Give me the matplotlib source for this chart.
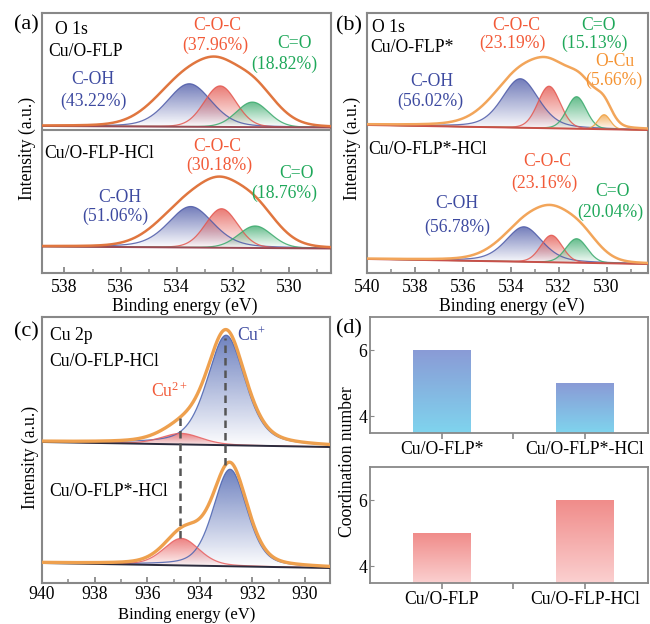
import numpy as np
import matplotlib
matplotlib.use('Agg')
import matplotlib.pyplot as plt
import matplotlib.colors as mcolors

plt.rcParams['font.family'] = 'Liberation Serif'
plt.rcParams['mathtext.fontset'] = 'custom'
plt.rcParams['mathtext.rm'] = 'Liberation Serif'
plt.rcParams['mathtext.it'] = 'Liberation Serif:italic'

# ---- data (peak heights in arbitrary intensity units) ----
# (a) O 1s, Cu/O-FLP (top) and Cu/O-FLP-HCl (bottom)
a1_pos = [533.55, 532.45, 531.3]
a1_amp = [43, 41, 25]
a1_fwhm = [1.85, 1.35, 1.35]
a1_eta = [0.25, 0.1, 0.1]
a1_env_pos = [533.8, 532.55, 531.25]
a1_env_amp = [42, 40, 36]
a1_env_fwhm = [2.4, 1.9, 1.9]
a1_env_eta = [0.15, 0.15, 0.15]
a1_base = [147, 145.5]

a2_pos = [533.5, 532.4, 531.2]
a2_amp = [41, 39, 22]
a2_fwhm = [1.9, 1.35, 1.4]
a2_eta = [0.35, 0.1, 0.1]
a2_env_pos = [533.7, 532.45, 531.2]
a2_env_amp = [38, 42, 36]
a2_env_fwhm = [2.4, 1.9, 1.9]
a2_env_eta = [0.15, 0.15, 0.15]
a2_base = [26.5, 24.5]

# (b) O 1s, Cu/O-FLP* (top) and Cu/O-FLP*-HCl (bottom)
b1_pos = [533.6, 532.4, 531.25, 530.1]
b1_amp = [49, 42, 32, 14.5]
b1_fwhm = [1.8, 1.1, 0.95, 0.6]
b1_eta = [0.35, 0.1, 0.1, 0.1]
b1_env_pos = [533.7, 532.3, 531.0, 530.1]
b1_env_amp = [50, 42, 36, 16]
b1_env_fwhm = [2.6, 1.9, 1.5, 0.8]
b1_env_eta = [0.35, 0.1, 0.1, 0.1]
b1_base = [148, 143]

b2_pos = [533.45, 532.3, 531.25]
b2_amp = [35, 27, 24]
b2_fwhm = [1.8, 1.05, 1.05]
b2_eta = [0.4, 0.1, 0.1]
b2_env_pos = [533.5, 532.3, 531.1]
b2_env_amp = [33, 33, 26]
b2_env_fwhm = [2.4, 1.9, 1.8]
b2_env_eta = [0.35, 0.1, 0.1]
b2_base = [14, 9]

# (c) Cu 2p, Cu/O-FLP-HCl (top) and Cu/O-FLP*-HCl (bottom): Cu+, Cu2+
c1_pos = [933.0, 934.7]
c1_amp = [110, 11]
c1_fwhm = [1.7, 1.8]
c1_eta = [0.45, 0.3]
c1_env_pos = [933.0, 934.7]
c1_env_amp = [114, 13]
c1_env_fwhm = [1.75, 1.8]
c1_env_eta = [0.45, 0.3]
c1_base = [141, 136]

c2_pos = [932.85, 934.7]
c2_amp = [97, 27]
c2_fwhm = [1.5, 1.6]
c2_eta = [0.35, 0.3]
c2_env_pos = [932.85, 934.6]
c2_env_amp = [101, 32]
c2_env_fwhm = [1.55, 1.7]
c2_env_eta = [0.35, 0.3]
c2_base = [20, 15]

c_dash_x = [934.75, 933.05]
c_dash_lo = [45, 118]
c_dash_hi = [166, 245]

# (d) coordination numbers
d_top_labels = ['Cu/O-FLP*', 'Cu/O-FLP*-HCl']
d_top_values = [6, 5]
d_bot_labels = ['Cu/O-FLP', 'Cu/O-FLP-HCl']
d_bot_values = [5, 6]

BLUE, RED, GREEN, ORANGE = '#4d5aa8', '#e4574f', '#3aaa6c', '#f0a040'
T_BLUE, T_RED, T_GREEN, T_ORANGE = '#3d4aa0', '#f25a38', '#1fa85a', '#f59332'
SPINE = '#888888'
FS = 12.7

W, H = 650, 624
fig = plt.figure(figsize=(6.5, 6.24), dpi=100)


def rect(l, t, r, b):
    return [l / W, 1 - b / H, (r - l) / W, (b - t) / H]


def pv(x, c, h, w, eta):
    g = np.exp(-4 * np.log(2) * (x - c) ** 2 / w ** 2)
    lor = 1 / (1 + 4 * (x - c) ** 2 / w ** 2)
    return h * ((1 - eta) * g + eta * lor)


def gradient_fill(ax, x, y0, y1, color, a_top=0.8, z=2):
    poly = ax.fill_between(x, y0, y1, facecolor='none', edgecolor='none')
    img = np.ones((256, 1, 4))
    img[:, 0, :3] = mcolors.to_rgb(color)
    img[:, 0, 3] = np.linspace(0.0, a_top, 256)
    im = ax.imshow(img, aspect='auto', origin='lower', interpolation='bilinear',
                   extent=[x.min(), x.max(), y0.min(), y1.max()], zorder=z)
    im.set_clip_path(poly.get_paths()[0], transform=ax.transData)


def draw_spec(ax, x, base, pos, amp, fwhm, eta, cols, epos, eamp, efwhm, eeta, ecol,
              bcol, elw=1.8):
    bl = base[0] + (base[1] - base[0]) * (x - x[0]) / (x[-1] - x[0])
    for c, h, w, e, col in zip(pos, amp, fwhm, eta, cols):
        y = bl + pv(x, c, h, w, e)
        gradient_fill(ax, x, bl, y, col)
        ax.plot(x, y, color=col, lw=0.9, alpha=0.85, zorder=3)
    ax.plot(x, bl, color=bcol, lw=1.4, zorder=3.5)
    env = bl.copy()
    for c, h, w, e in zip(epos, eamp, efwhm, eeta):
        env = env + pv(x, c, h, w, e)
    ax.plot(x, env, color=ecol, lw=elw, zorder=4)


def spec_axes(r, xlim, major, minor, pad=4.5):
    ax = fig.add_axes(rect(*r))
    ax.set_yticks([])
    ax.set_xticks(major)
    ax.set_xticks(minor, minor=True)
    ax.tick_params(axis='x', which='both', direction='in', color=SPINE, labelsize=FS, pad=pad)
    ax.tick_params(axis='x', which='major', length=4.5, width=1.3)
    ax.tick_params(axis='x', which='minor', length=3, width=1.1)
    for s in ax.spines.values():
        s.set_color(SPINE)
        s.set_linewidth(1.5)
    return ax, np.linspace(xlim[0], xlim[1], 700)


def txt(s, x, y, color='black', ha='center', size=FS, rot=0):
    fig.text(x / W, 1 - y / H, s, color=color, ha=ha, va='center', fontsize=size, rotation=rot)


# ---- (a) ----
ax, xs = spec_axes((42, 13, 331, 273), (538.8, 528.5),
                   [538, 536, 534, 532, 530], [537, 535, 533, 531, 529])
draw_spec(ax, xs, a1_base, a1_pos, a1_amp, a1_fwhm, a1_eta, [BLUE, RED, GREEN],
          a1_env_pos, a1_env_amp, a1_env_fwhm, a1_env_eta, '#e0763f', '#9a4a55')
draw_spec(ax, xs, a2_base, a2_pos, a2_amp, a2_fwhm, a2_eta, [BLUE, RED, GREEN],
          a2_env_pos, a2_env_amp, a2_env_fwhm, a2_env_eta, '#e0763f', '#9a4a55')
ax.axhline(143.5, color=SPINE, lw=1.5, zorder=5)
ax.set_xlim(538.8, 528.5)
ax.set_ylim(0, 260)

# ---- (b) ----
ax, xs = spec_axes((367, 13, 648, 273), (540, 528.27),
                   [540, 538, 536, 534, 532, 530], [539, 537, 535, 533, 531, 529])
draw_spec(ax, xs, b1_base, b1_pos, b1_amp, b1_fwhm, b1_eta, [BLUE, RED, GREEN, ORANGE],
          b1_env_pos, b1_env_amp, b1_env_fwhm, b1_env_eta, '#f2a55a', '#c8504a')
draw_spec(ax, xs, b2_base, b2_pos, b2_amp, b2_fwhm, b2_eta, [BLUE, RED, GREEN],
          b2_env_pos, b2_env_amp, b2_env_fwhm, b2_env_eta, '#f2a55a', '#c8504a')
ax.set_xlim(540, 528.27)
ax.set_ylim(0, 260)

# ---- (c) ----
ax, xs = spec_axes((42, 317, 330, 583), (940, 929.05),
                   [940, 938, 936, 934, 932, 930], [939, 937, 935, 933, 931, 929], pad=2.5)
draw_spec(ax, xs, c1_base, c1_pos, c1_amp, c1_fwhm, c1_eta, ['#4a62b0', '#e86060'],
          c1_env_pos, c1_env_amp, c1_env_fwhm, c1_env_eta, '#eea04e', '#2b2b3d', elw=2.4)
draw_spec(ax, xs, c2_base, c2_pos, c2_amp, c2_fwhm, c2_eta, ['#4a62b0', '#e86060'],
          c2_env_pos, c2_env_amp, c2_env_fwhm, c2_env_eta, '#eea04e', '#2b2b3d', elw=2.4)
for x0, lo, hi in zip(c_dash_x, c_dash_lo, c_dash_hi):
    ax.plot([x0, x0], [lo, hi], color='#555555', lw=1.8, ls=(0, (3, 2)), zorder=6)
ax.set_xlim(940, 929.05)
ax.set_ylim(0, 266)


# ---- (d) ----
def bar_axes(r, labels, values, c_bot, c_top):
    ax = fig.add_axes(rect(*r))
    cats = np.arange(len(labels))
    bars = ax.bar(cats, values, width=0.4, color='none', edgecolor='none')
    cmap = mcolors.LinearSegmentedColormap.from_list('g', [c_bot, c_top])
    grad = np.linspace(0, 1, 256)[:, None]
    for b, v in zip(bars, values):
        x0 = b.get_x()
        im = ax.imshow(grad, cmap=cmap, aspect='auto', origin='lower',
                       extent=[x0, x0 + b.get_width(), 3.5, v], zorder=2)
        im.set_clip_path(b)
    ax.set_xlim(-0.5, 1.44)
    ax.set_ylim(3.5, 7.0)
    ax.set_yticks([4, 6])
    ax.set_xticks(cats)
    ax.set_xticks([0.5], minor=True)
    ax.set_xticklabels(labels)
    ax.tick_params(axis='x', which='both', direction='out', length=4, width=1.2,
                   color=SPINE, labelsize=FS, pad=2)
    ax.tick_params(axis='y', direction='in', length=3, color=SPINE, labelsize=FS, pad=2)
    for s in ax.spines.values():
        s.set_color(SPINE)
        s.set_linewidth(1.3)
    return ax


bar_axes((370, 317, 648, 433), d_top_labels, d_top_values, '#7fd4ee', '#8a9bd6')
bar_axes((370, 467, 648, 583), d_bot_labels, d_bot_values, '#fbd0d0', '#f08c8a')

# ---- text ----
for lab, x, y in [('(a)', 26, 25), ('(b)', 349, 26), ('(c)', 26, 332), ('(d)', 349, 329)]:
    txt(lab, x, y, size=16)

txt('O 1s', 55, 30, ha='left')
txt('Cu/O-FLP', 48, 52, ha='left')
txt('C-OH', 93, 80, T_BLUE)
txt('(43.22%)', 93, 101, T_BLUE)
txt('C-O-C', 217, 26, T_RED)
txt('(37.96%)', 215, 45, T_RED)
txt('C=O', 295, 44, T_GREEN)
txt('(18.82%)', 284, 64, T_GREEN)
txt('Cu/O-FLP-HCl', 44, 153, ha='left')
txt('C-O-C', 217, 146, T_RED)
txt('(30.18%)', 219, 165, T_RED)
txt('C=O', 296, 173, T_GREEN)
txt('(18.76%)', 284, 193, T_GREEN)
txt('C-OH', 120, 197, T_BLUE)
txt('(51.06%)', 115, 216, T_BLUE)

txt('O 1s', 372, 28, ha='left')
txt('Cu/O-FLP*', 370, 47, ha='left')
txt('C-O-C', 516, 26, T_RED)
txt('(23.19%)', 512, 43, T_RED)
txt('C=O', 598, 26, T_GREEN)
txt('(15.13%)', 594, 43, T_GREEN)
txt('O-Cu', 615, 62, T_ORANGE)
txt('(5.66%)', 614, 80, T_ORANGE)
txt('C-OH', 432, 82, T_BLUE)
txt('(56.02%)', 430, 101, T_BLUE)
txt('Cu/O-FLP*-HCl', 368, 150, ha='left')
txt('C-O-C', 547, 162, T_RED)
txt('(23.16%)', 544, 183, T_RED)
txt('C=O', 612, 192, T_GREEN)
txt('(20.04%)', 610, 212, T_GREEN)
txt('C-OH', 457, 203, T_BLUE)
txt('(56.78%)', 457, 227, T_BLUE)

txt('Cu 2p', 50, 335, ha='left')
txt('Cu/O-FLP-HCl', 49, 361, ha='left')
txt(r'Cu$^{+}$', 237, 336, T_BLUE, ha='left')
txt(r'Cu$^{2+}$', 170, 391, T_RED)
txt('Cu/O-FLP*-HCl', 49, 492, ha='left')

txt('Intensity (a.u.)', 27, 148, rot=90)
txt('Intensity (a.u.)', 352, 148, rot=90)
txt('Intensity (a.u.)', 30, 457, rot=90)
txt('Binding energy (eV)', 185, 306)
txt('Binding energy (eV)', 512, 306)
txt('Binding energy (eV)', 187, 615, size=12)
txt('Coordination number', 347, 462, rot=90)

fig.savefig('out.png', dpi=100)
